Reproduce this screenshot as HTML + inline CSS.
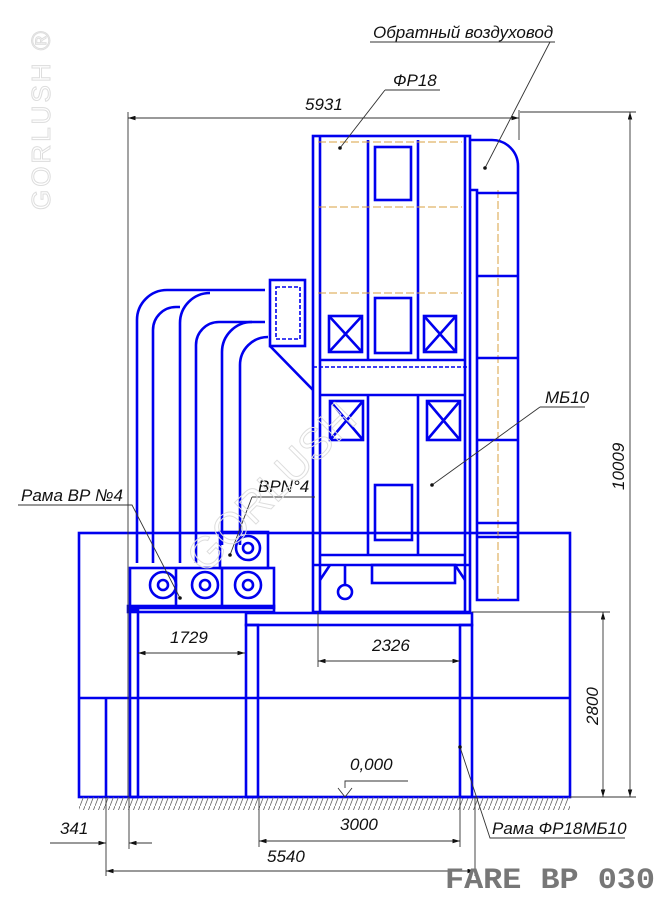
<!DOCTYPE html>
<html><head><meta charset="utf-8"><style>
html,body{margin:0;padding:0;background:#fff;}
svg{display:block;}
.b{stroke:#0000ee;stroke-width:2.6;fill:none;}
.bt{stroke:#0000ee;stroke-width:1.6;fill:none;}
.d{stroke:#333;stroke-width:0.9;fill:none;}
.t{font-family:"Liberation Sans",sans-serif;font-style:italic;font-size:17px;fill:#111;}
.o{stroke:#d9a040;stroke-width:1;stroke-dasharray:8 3;fill:none;}
</style></head><body>
<svg width="663" height="900" viewBox="0 0 663 900" xmlns="http://www.w3.org/2000/svg">
<defs>
<pattern id="h" width="5" height="13" patternUnits="userSpaceOnUse"><line x1="5" y1="0" x2="0" y2="13" stroke="#666" stroke-width="0.8"/></pattern>
<marker id="a" viewBox="0 0 10 6" refX="10" refY="3" markerWidth="10" markerHeight="5" orient="auto-start-reverse"><path d="M0,0L10,3L0,6z" fill="#111"/></marker>
</defs>
<text x="0" y="0" transform="translate(50,210) rotate(-90)" font-family="Liberation Sans,sans-serif" font-size="26" fill="none" stroke="#ddd" stroke-width="1" letter-spacing="3">GORLUSH ®</text>
<rect x="79" y="533" width="491" height="264" class="b"/>
<line x1="79" y1="698" x2="570" y2="698" class="b"/>
<line x1="106" y1="698" x2="106" y2="797" class="b"/>
<rect x="79" y="797" width="491" height="13" fill="url(#h)"/>
<rect x="130" y="610" width="8" height="187" fill="#fff" class="b"/>
<rect x="128" y="606" width="146" height="6" fill="#fff" class="b"/>
<rect x="246" y="613" width="226" height="12" fill="#fff" class="b"/>
<rect x="246" y="625" width="12" height="172" fill="#fff" class="b"/>
<rect x="460" y="625" width="12" height="172" fill="#fff" class="b"/>
<rect x="313" y="136" width="157" height="476" fill="#fff" class="b"/>
<line x1="320" y1="136" x2="320" y2="612" class="b"/>
<line x1="465" y1="136" x2="465" y2="612" class="b"/>
<line x1="368" y1="140" x2="368" y2="360" class="b"/>
<line x1="418" y1="140" x2="418" y2="360" class="b"/>
<line x1="368" y1="395" x2="368" y2="555" class="b"/>
<line x1="418" y1="395" x2="418" y2="555" class="b"/>
<line x1="320" y1="360" x2="465" y2="360" class="b"/>
<line x1="320" y1="395" x2="465" y2="395" class="b"/>
<line x1="313" y1="367" x2="470" y2="367" class="bt" stroke-dasharray="4 2"/>
<line x1="320" y1="555" x2="465" y2="555" class="b"/>
<line x1="313" y1="565" x2="470" y2="565" class="b"/>
<line x1="320" y1="612" x2="465" y2="612" class="b"/>
<line x1="318" y1="142" x2="462" y2="142" class="o"/>
<line x1="318" y1="207" x2="462" y2="207" class="o"/>
<line x1="318" y1="293" x2="462" y2="293" class="o"/>
<rect x="375" y="147" width="36" height="53" class="b"/>
<rect x="375" y="298" width="36" height="55" class="b"/>
<rect x="375" y="485" width="37" height="55" class="b"/>
<g class="b">
<rect x="329" y="316" width="33" height="36"/><path d="M329,316L362,352M362,316L329,352"/>
<rect x="424" y="316" width="32" height="36"/><path d="M424,316L456,352M456,316L424,352"/>
<rect x="330" y="401" width="33" height="39"/><path d="M330,401L363,440M363,401L330,440"/>
<rect x="427" y="401" width="33" height="39"/><path d="M427,401L460,440M460,401L427,440"/>
</g>
<rect x="372" y="565" width="83" height="18" class="b"/>
<line x1="345" y1="565" x2="345" y2="585" class="b"/>
<circle cx="345" cy="592" r="7" class="b"/>
<path d="M320,580L330,565M465,580L455,565" class="b"/>
<path d="M470,140 L492,140 A26,26 0 0 1 518,166 L518,600 L477,600 L477,190 L470,190" class="b" fill="#fff"/>
<line x1="498" y1="190" x2="498" y2="600" stroke="#d9a040" stroke-dasharray="8 3"/>
<g class="b"><line x1="477" y1="193" x2="518" y2="193"/><line x1="477" y1="276" x2="518" y2="276"/><line x1="477" y1="358" x2="518" y2="358"/><line x1="477" y1="440" x2="518" y2="440"/><line x1="477" y1="523" x2="518" y2="523"/><line x1="477" y1="537" x2="518" y2="537"/></g>
<g class="b">
<path d="M137,563 L137,320 A30,30 0 0 1 167,290 L265,290"/>
<path d="M153,563 L153,330 A23,23 0 0 1 176,307 L180,307"/>
<path d="M180,563 L180,323 A30,30 0 0 1 210,293"/>
<path d="M196,563 L196,345 A23,23 0 0 1 219,322 L265,322"/>
<path d="M222,545 L222,352 A30,30 0 0 1 252,322"/>
<path d="M240,545 L240,365 A28,28 0 0 1 268,337"/>
</g>
<rect x="270" y="280" width="35" height="66" class="b" fill="#fff"/>
<rect x="276" y="287" width="24" height="52" class="bt" stroke-dasharray="4 2"/>
<path d="M270,346 L313,390" class="b"/>
<rect x="130" y="568" width="144" height="40" class="b" fill="#fff"/>
<line x1="176" y1="568" x2="176" y2="608" class="b"/>
<line x1="222" y1="568" x2="222" y2="608" class="b"/>
<rect x="220" y="532" width="48" height="36" class="b" fill="#fff"/>
<g class="b">
<circle cx="163" cy="585" r="13"/><circle cx="163" cy="585" r="5"/>
<circle cx="205" cy="585" r="13"/><circle cx="205" cy="585" r="5"/>
<circle cx="248" cy="585" r="13"/><circle cx="248" cy="585" r="5"/>
<circle cx="248" cy="548" r="12"/><circle cx="248" cy="548" r="5"/>
</g>
<g class="d">
<line x1="128" y1="112" x2="128" y2="797"/><line x1="519" y1="110" x2="519" y2="140"/>
<line x1="128" y1="118" x2="519" y2="118" marker-start="url(#a)" marker-end="url(#a)"/>
<line x1="520" y1="112" x2="636" y2="112"/><line x1="570" y1="797" x2="636" y2="797"/>
<line x1="630" y1="112" x2="630" y2="797" marker-start="url(#a)" marker-end="url(#a)"/>
<line x1="472" y1="612" x2="610" y2="612"/>
<line x1="603" y1="612" x2="603" y2="797" marker-start="url(#a)" marker-end="url(#a)"/>
<line x1="138" y1="653" x2="245" y2="653" marker-start="url(#a)" marker-end="url(#a)"/>
<line x1="318" y1="612" x2="318" y2="667"/>
<line x1="318" y1="661" x2="460" y2="661" marker-start="url(#a)" marker-end="url(#a)"/>
<line x1="259" y1="797" x2="259" y2="847"/><line x1="460" y1="797" x2="460" y2="847"/>
<line x1="259" y1="841" x2="460" y2="841" marker-start="url(#a)" marker-end="url(#a)"/>
<line x1="106" y1="797" x2="106" y2="876"/><line x1="129" y1="797" x2="129" y2="849"/>
<line x1="50" y1="843" x2="106" y2="843" marker-end="url(#a)"/>
<line x1="129" y1="843" x2="152" y2="843" marker-start="url(#a)"/>
<line x1="475" y1="797" x2="475" y2="876"/>
<line x1="106" y1="871" x2="475" y2="871" marker-start="url(#a)" marker-end="url(#a)"/>
<path d="M345,797 L338,788 M345,797 L352,788 M345,788 L345,781 L408,781"/>
<path d="M370,42 L555,42 M550,42 L485,168"/>
<path d="M385,90 L440,90 M385,90 L340,148"/>
<path d="M540,407 L585,407 M540,407 L432,485"/>
<path d="M18,505 L132,505 L180,598"/>
<path d="M252,497 L315,497 M252,497 L230,555"/>
<path d="M460,747 L490,838 L625,838"/>
</g>
<g fill="#111"><circle cx="485" cy="168" r="1.8"/><circle cx="340" cy="148" r="1.8"/><circle cx="432" cy="485" r="1.8"/><circle cx="180" cy="598" r="1.8"/><circle cx="230" cy="555" r="1.8"/><circle cx="460" cy="747" r="1.8"/></g>
<text class="t" x="373" y="38">Обратный воздуховод</text>
<text class="t" x="393" y="86">ФР18</text>
<text class="t" x="305" y="110">5931</text>
<text class="t" x="545" y="403">МБ10</text>
<text class="t" x="21" y="501">Рама ВР №4</text>
<text class="t" x="258" y="492">BPN°4</text>
<text class="t" x="170" y="643">1729</text>
<text class="t" x="372" y="651">2326</text>
<text class="t" x="350" y="770">0,000</text>
<text class="t" x="340" y="830">3000</text>
<text class="t" x="60" y="834">341</text>
<text class="t" x="267" y="862">5540</text>
<text class="t" x="492" y="834">Рама ФР18МБ10</text>
<text class="t" transform="translate(598,725) rotate(-90)">2800</text>
<text class="t" transform="translate(624,490) rotate(-90)">10009</text>
<text x="0" y="0" transform="translate(205,575) rotate(-45)" font-family="Liberation Sans,sans-serif" font-size="44" fill="none" stroke="#ddd" stroke-width="1">GORLUSH</text>
<text x="445" y="888" font-family="Liberation Mono,monospace" font-size="30" font-weight="bold" fill="#777" textLength="210" lengthAdjust="spacingAndGlyphs">FARE BP 030</text>
</svg>
</body></html>
